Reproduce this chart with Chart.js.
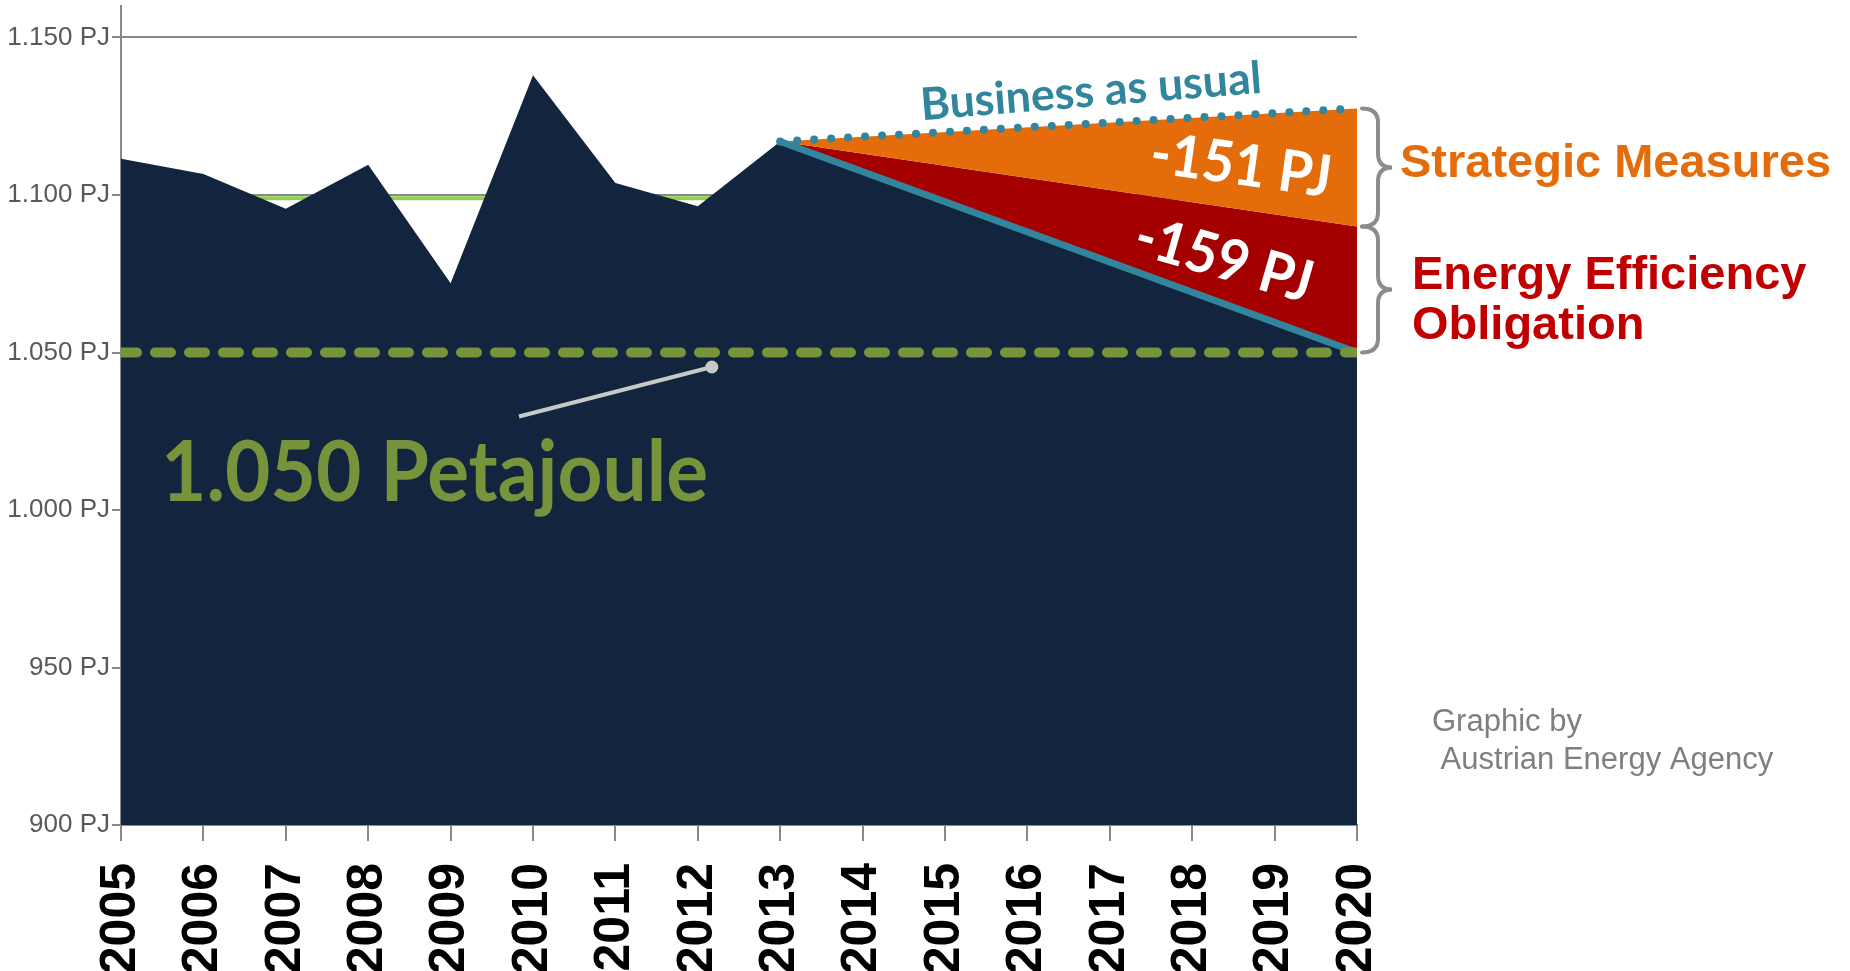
<!DOCTYPE html>
<html><head><meta charset="utf-8">
<script src="https://cdn.jsdelivr.net/npm/chart.js@4.4.1/dist/chart.umd.min.js"></script>
<style>html,body{margin:0;padding:0;overflow:hidden;background:#fff}#wrap{position:relative;width:1850px;height:990px}</style>
</head><body><div id="wrap"><canvas id="c"></canvas></div>
<script>
// ---- data ----
const years = [2005,2006,2007,2008,2009,2010,2011,2012,2013,2014,2015,2016,2017,2018,2019,2020];
const consumptionYears = [2005,2006,2007,2008,2009,2010,2011,2012,2013];
const consumption = [1111.5,1106.7,1095.6,1109.6,1072,1138,1103.8,1096.4,1117];
const targetYear = 2020;
const target = 1050;              // 1.050 PJ target
const bauValues = [1117, 1127.5]; // business as usual 2013 -> 2020
const eeoValues = [1117, 1090];   // boundary strategic measures / efficiency obligation
const pathValues = [1117, 1050];  // reduction path 2013 -> 2020
const refLine = 1099;             // light green reference line
const yTickValues = [900,950,1000,1050,1100,1150];
const leaderPts = [[2009.83,1029.7],[2012.17,1045.4]];

const pair = (vals)=>[{x:2013,y:vals[0]},{x:targetYear,y:vals[1]}];
const teal = '#31859c', navy = '#12243e', grey = '#888888';

const annot = {
  id:'annot',
  afterDatasetsDraw(chart){
    const {ctx, scales:{x,y}, chartArea} = chart;
    ctx.save();
    const a = [x.getPixelForValue(leaderPts[0][0]), y.getPixelForValue(leaderPts[0][1])];
    const b = [x.getPixelForValue(leaderPts[1][0]), y.getPixelForValue(leaderPts[1][1])];
    ctx.strokeStyle = '#c8c8c8'; ctx.lineWidth = 4;
    ctx.beginPath(); ctx.moveTo(a[0],a[1]); ctx.lineTo(b[0],b[1]); ctx.stroke();
    ctx.fillStyle = '#c8c8c8'; ctx.beginPath(); ctx.arc(b[0],b[1],6.5,0,Math.PI*2); ctx.fill();
    const brace = (top, bot) => {
      const xl = chartArea.right + 5, xm = chartArea.right + 21, xr = chartArea.right + 35;
      const mid = (top + bot) / 2, r = 14;
      ctx.beginPath();
      ctx.moveTo(xl, top);
      ctx.quadraticCurveTo(xm, top, xm, top + r);
      ctx.lineTo(xm, mid - r);
      ctx.quadraticCurveTo(xm, mid, xr, mid);
      ctx.quadraticCurveTo(xm, mid, xm, mid + r);
      ctx.lineTo(xm, bot - r);
      ctx.quadraticCurveTo(xm, bot, xl, bot);
      ctx.stroke();
    };
    ctx.strokeStyle = '#8c8c8c'; ctx.lineWidth = 4; ctx.lineCap = 'round';
    brace(y.getPixelForValue(bauValues[1]), y.getPixelForValue(eeoValues[1]));
    brace(y.getPixelForValue(eeoValues[1]), y.getPixelForValue(pathValues[1]));
    ctx.restore();
  },
  afterDraw(chart){
    const ctx = chart.ctx;
    const rot = (txt, cx, cy, deg, font, color, mw) => {
      ctx.save(); ctx.translate(cx, cy); ctx.rotate(deg*Math.PI/180);
      ctx.font = font; ctx.fillStyle = color; ctx.textAlign = 'center'; ctx.textBaseline = 'middle';
      ctx.fillText(txt, 0, 0, mw); ctx.restore();
    };
    rot('Business as usual', 1091, 92, -4.6, 'bold 45px Lato', teal, 342);
    rot('-151 PJ', 1241, 166, 8, 'bold 58px Lato', '#ffffff', 182);
    rot('-159 PJ', 1224, 260, 16, 'bold 58px Lato', '#ffffff', 182);
    ctx.save();
    ctx.textAlign = 'left'; ctx.textBaseline = 'alphabetic';
    ctx.font = 'bold 84px Lato'; ctx.fillStyle = '#77933c';
    ctx.fillText('1.050 Petajoule', 161, 501, 547);
    ctx.font = 'bold 47px "Liberation Sans"';
    ctx.fillStyle = '#e46c0a'; ctx.fillText('Strategic Measures', 1400, 177);
    ctx.fillStyle = '#c00000'; ctx.fillText('Energy Efficiency', 1412, 289); ctx.fillText('Obligation', 1412, 339);
    ctx.font = '31px "Liberation Sans"'; ctx.fillStyle = '#7f7f7f';
    ctx.fillText('Graphic by', 1432, 731); ctx.fillText(' Austrian Energy Agency', 1432, 769);
    ctx.restore();
  }
};

new Chart(document.getElementById('c'), {
  type:'line',
  data:{ datasets:[
    {label:'ref', data:[{x:years[0],y:refLine},{x:targetYear,y:refLine}], borderColor:'#92d050', borderWidth:4, pointRadius:0, fill:false, order:10},
    {label:'consumption', data:consumptionYears.map((yr,i)=>({x:yr,y:consumption[i]})).concat([{x:targetYear,y:target}]),
      borderWidth:0, borderColor:navy, backgroundColor:navy, pointRadius:0, fill:'start', order:9},
    {label:'path', data:pair(pathValues), borderColor:teal, borderWidth:7, borderCapStyle:'round', pointRadius:0, fill:false, order:6},
    {label:'eeo', data:pair(eeoValues), borderWidth:0, borderColor:'#a50000', backgroundColor:'#a50000', pointRadius:0, fill:{target:2}, order:8},
    {label:'bau', data:pair(bauValues), borderColor:teal, borderWidth:8, borderDash:[0,17], borderCapStyle:'round', backgroundColor:'#e46c0a', pointRadius:0, fill:{target:3}, order:7},
    {label:'target', data:[{x:years[0],y:target},{x:targetYear,y:target}], borderColor:'#77933c', borderWidth:10, borderDash:[16,18], borderCapStyle:'round', pointRadius:0, fill:false, order:5}
  ]},
  options:{
    responsive:true, maintainAspectRatio:false, animation:false,
    layout:{padding:{top:6, right:493, left:0, bottom:0}},
    plugins:{legend:{display:false}, tooltip:{enabled:false}},
    elements:{line:{tension:0}},
    scales:{
      x:{type:'linear', min:years[0], max:years[years.length-1],
        afterBuildTicks:(s)=>{ s.ticks = years.map(v=>({value:v})); },
        afterFit:(s)=>{ s.height = 165; s.paddingLeft = 0; s.paddingRight = 0; },
        grid:{display:true, drawOnChartArea:false, drawTicks:true, tickLength:16, color:grey, lineWidth:2},
        border:{display:true, color:grey, width:2},
        ticks:{autoSkip:false, maxRotation:90, minRotation:90, padding:22, color:'#000',
          font:{family:'"Liberation Sans"', size:50, weight:'bold'}, callback:(v)=>String(v)}},
      y:{min:900, max:1160,
        afterBuildTicks:(s)=>{ s.ticks = yTickValues.map(v=>({value:v})); },
        afterFit:(s)=>{ s.width = 121; s.paddingTop = 0; s.paddingBottom = 0; },
        grid:{color:grey, lineWidth:2, tickLength:9, drawTicks:true},
        border:{display:true, color:grey, width:2},
        ticks:{padding:2, color:'#595959', font:{family:'"Liberation Sans"', size:26},
          callback:(v)=> v>=1000 ? (v/1000).toFixed(3)+' PJ' : v+' PJ'}}
    }
  },
  plugins:[annot]
});
</script></body></html>
